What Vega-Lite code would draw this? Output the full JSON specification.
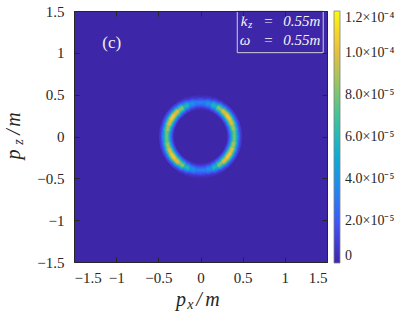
{
"$schema":"https://vega.github.io/schema/vega-lite/v6.json",
"width":253,"height":251,
"autosize":{"type":"none"},
"padding":{"left":74,"top":11,"right":74,"bottom":54},
"background":"white",
"config":{
 "view":{"stroke":null},
 "font":"Liberation Serif",
 "axis":{"labelFont":"Liberation Serif","labelFontSize":15,"labelColor":"#262626","domainColor":"#262626","tickColor":"#262626","tickSize":-5,"grid":false,"title":null,"domainWidth":1,"tickWidth":1,"zindex":2},
 "legend":{"padding":0}
},
"datasets":{"ring":[
{"t":0,"t2":10,"r":0.3225,"r2":0.3375,"v":3.8e-6},{"t":0,"t2":10,"r":0.3375,"r2":0.3525,"v":8.2e-6},{"t":0,"t2":10,"r":0.3525,"r2":0.3675,"v":1.51e-5},{"t":0,"t2":10,"r":0.3675,"r2":0.3825,"v":2.33e-5},{"t":0,"t2":10,"r":0.3825,"r2":0.3975,"v":3.03e-5},{"t":0,"t2":10,"r":0.3975,"r2":0.4125,"v":3.3e-5},{"t":0,"t2":10,"r":0.4125,"r2":0.4275,"v":3.03e-5},{"t":0,"t2":10,"r":0.4275,"r2":0.4425,"v":2.33e-5},{"t":0,"t2":10,"r":0.4425,"r2":0.4575,"v":1.51e-5},{"t":0,"t2":10,"r":0.4575,"r2":0.4725,"v":8.2e-6},{"t":0,"t2":10,"r":0.4725,"r2":0.4875,"v":3.8e-6},
{"t":10,"t2":20,"r":0.3225,"r2":0.3375,"v":4.8e-6},{"t":10,"t2":20,"r":0.3375,"r2":0.3525,"v":1.04e-5},{"t":10,"t2":20,"r":0.3525,"r2":0.3675,"v":1.91e-5},{"t":10,"t2":20,"r":0.3675,"r2":0.3825,"v":2.96e-5},{"t":10,"t2":20,"r":0.3825,"r2":0.3975,"v":3.83e-5},{"t":10,"t2":20,"r":0.3975,"r2":0.4125,"v":4.18e-5},{"t":10,"t2":20,"r":0.4125,"r2":0.4275,"v":3.83e-5},{"t":10,"t2":20,"r":0.4275,"r2":0.4425,"v":2.96e-5},{"t":10,"t2":20,"r":0.4425,"r2":0.4575,"v":1.91e-5},{"t":10,"t2":20,"r":0.4575,"r2":0.4725,"v":1.04e-5},{"t":10,"t2":20,"r":0.4725,"r2":0.4875,"v":4.8e-6},
{"t":20,"t2":30,"r":0.3225,"r2":0.3375,"v":7.0e-6},{"t":20,"t2":30,"r":0.3375,"r2":0.3525,"v":1.53e-5},{"t":20,"t2":30,"r":0.3525,"r2":0.3675,"v":2.82e-5},{"t":20,"t2":30,"r":0.3675,"r2":0.3825,"v":4.36e-5},{"t":20,"t2":30,"r":0.3825,"r2":0.3975,"v":5.65e-5},{"t":20,"t2":30,"r":0.3975,"r2":0.4125,"v":6.16e-5},{"t":20,"t2":30,"r":0.4125,"r2":0.4275,"v":5.65e-5},{"t":20,"t2":30,"r":0.4275,"r2":0.4425,"v":4.36e-5},{"t":20,"t2":30,"r":0.4425,"r2":0.4575,"v":2.82e-5},{"t":20,"t2":30,"r":0.4575,"r2":0.4725,"v":1.53e-5},{"t":20,"t2":30,"r":0.4725,"r2":0.4875,"v":7.0e-6},
{"t":30,"t2":40,"r":0.3225,"r2":0.3375,"v":9.8e-6},{"t":30,"t2":40,"r":0.3375,"r2":0.3525,"v":2.14e-5},{"t":30,"t2":40,"r":0.3525,"r2":0.3675,"v":3.93e-5},{"t":30,"t2":40,"r":0.3675,"r2":0.3825,"v":6.07e-5},{"t":30,"t2":40,"r":0.3825,"r2":0.3975,"v":7.87e-5},{"t":30,"t2":40,"r":0.3975,"r2":0.4125,"v":8.58e-5},{"t":30,"t2":40,"r":0.4125,"r2":0.4275,"v":7.87e-5},{"t":30,"t2":40,"r":0.4275,"r2":0.4425,"v":6.07e-5},{"t":30,"t2":40,"r":0.4425,"r2":0.4575,"v":3.93e-5},{"t":30,"t2":40,"r":0.4575,"r2":0.4725,"v":2.14e-5},{"t":30,"t2":40,"r":0.4725,"r2":0.4875,"v":9.8e-6},
{"t":40,"t2":50,"r":0.3225,"r2":0.3375,"v":1.18e-5},{"t":40,"t2":50,"r":0.3375,"r2":0.3525,"v":2.58e-5},{"t":40,"t2":50,"r":0.3525,"r2":0.3675,"v":4.74e-5},{"t":40,"t2":50,"r":0.3675,"r2":0.3825,"v":7.31e-5},{"t":40,"t2":50,"r":0.3825,"r2":0.3975,"v":9.48e-5},{"t":40,"t2":50,"r":0.3975,"r2":0.4125,"v":1.034e-4},{"t":40,"t2":50,"r":0.4125,"r2":0.4275,"v":9.48e-5},{"t":40,"t2":50,"r":0.4275,"r2":0.4425,"v":7.31e-5},{"t":40,"t2":50,"r":0.4425,"r2":0.4575,"v":4.74e-5},{"t":40,"t2":50,"r":0.4575,"r2":0.4725,"v":2.58e-5},{"t":40,"t2":50,"r":0.4725,"r2":0.4875,"v":1.18e-5},
{"t":50,"t2":60,"r":0.3225,"r2":0.3375,"v":1.25e-5},{"t":50,"t2":60,"r":0.3375,"r2":0.3525,"v":2.74e-5},{"t":50,"t2":60,"r":0.3525,"r2":0.3675,"v":5.04e-5},{"t":50,"t2":60,"r":0.3675,"r2":0.3825,"v":7.78e-5},{"t":50,"t2":60,"r":0.3825,"r2":0.3975,"v":1.009e-4},{"t":50,"t2":60,"r":0.3975,"r2":0.4125,"v":1.1e-4},{"t":50,"t2":60,"r":0.4125,"r2":0.4275,"v":1.009e-4},{"t":50,"t2":60,"r":0.4275,"r2":0.4425,"v":7.78e-5},{"t":50,"t2":60,"r":0.4425,"r2":0.4575,"v":5.04e-5},{"t":50,"t2":60,"r":0.4575,"r2":0.4725,"v":2.74e-5},{"t":50,"t2":60,"r":0.4725,"r2":0.4875,"v":1.25e-5},
{"t":60,"t2":70,"r":0.3225,"r2":0.3375,"v":1.18e-5},{"t":60,"t2":70,"r":0.3375,"r2":0.3525,"v":2.58e-5},{"t":60,"t2":70,"r":0.3525,"r2":0.3675,"v":4.74e-5},{"t":60,"t2":70,"r":0.3675,"r2":0.3825,"v":7.31e-5},{"t":60,"t2":70,"r":0.3825,"r2":0.3975,"v":9.48e-5},{"t":60,"t2":70,"r":0.3975,"r2":0.4125,"v":1.034e-4},{"t":60,"t2":70,"r":0.4125,"r2":0.4275,"v":9.48e-5},{"t":60,"t2":70,"r":0.4275,"r2":0.4425,"v":7.31e-5},{"t":60,"t2":70,"r":0.4425,"r2":0.4575,"v":4.74e-5},{"t":60,"t2":70,"r":0.4575,"r2":0.4725,"v":2.58e-5},{"t":60,"t2":70,"r":0.4725,"r2":0.4875,"v":1.18e-5},
{"t":70,"t2":80,"r":0.3225,"r2":0.3375,"v":1.03e-5},{"t":70,"t2":80,"r":0.3375,"r2":0.3525,"v":2.25e-5},{"t":70,"t2":80,"r":0.3525,"r2":0.3675,"v":4.13e-5},{"t":70,"t2":80,"r":0.3675,"r2":0.3825,"v":6.38e-5},{"t":70,"t2":80,"r":0.3825,"r2":0.3975,"v":8.27e-5},{"t":70,"t2":80,"r":0.3975,"r2":0.4125,"v":9.02e-5},{"t":70,"t2":80,"r":0.4125,"r2":0.4275,"v":8.27e-5},{"t":70,"t2":80,"r":0.4275,"r2":0.4425,"v":6.38e-5},{"t":70,"t2":80,"r":0.4425,"r2":0.4575,"v":4.13e-5},{"t":70,"t2":80,"r":0.4575,"r2":0.4725,"v":2.25e-5},{"t":70,"t2":80,"r":0.4725,"r2":0.4875,"v":1.03e-5},
{"t":80,"t2":90,"r":0.3225,"r2":0.3375,"v":9.0e-6},{"t":80,"t2":90,"r":0.3375,"r2":0.3525,"v":1.97e-5},{"t":80,"t2":90,"r":0.3525,"r2":0.3675,"v":3.63e-5},{"t":80,"t2":90,"r":0.3675,"r2":0.3825,"v":5.6e-5},{"t":80,"t2":90,"r":0.3825,"r2":0.3975,"v":7.26e-5},{"t":80,"t2":90,"r":0.3975,"r2":0.4125,"v":7.92e-5},{"t":80,"t2":90,"r":0.4125,"r2":0.4275,"v":7.26e-5},{"t":80,"t2":90,"r":0.4275,"r2":0.4425,"v":5.6e-5},{"t":80,"t2":90,"r":0.4425,"r2":0.4575,"v":3.63e-5},{"t":80,"t2":90,"r":0.4575,"r2":0.4725,"v":1.97e-5},{"t":80,"t2":90,"r":0.4725,"r2":0.4875,"v":9.0e-6},
{"t":90,"t2":100,"r":0.3225,"r2":0.3375,"v":9.0e-6},{"t":90,"t2":100,"r":0.3375,"r2":0.3525,"v":1.97e-5},{"t":90,"t2":100,"r":0.3525,"r2":0.3675,"v":3.63e-5},{"t":90,"t2":100,"r":0.3675,"r2":0.3825,"v":5.6e-5},{"t":90,"t2":100,"r":0.3825,"r2":0.3975,"v":7.26e-5},{"t":90,"t2":100,"r":0.3975,"r2":0.4125,"v":7.92e-5},{"t":90,"t2":100,"r":0.4125,"r2":0.4275,"v":7.26e-5},{"t":90,"t2":100,"r":0.4275,"r2":0.4425,"v":5.6e-5},{"t":90,"t2":100,"r":0.4425,"r2":0.4575,"v":3.63e-5},{"t":90,"t2":100,"r":0.4575,"r2":0.4725,"v":1.97e-5},{"t":90,"t2":100,"r":0.4725,"r2":0.4875,"v":9.0e-6},
{"t":100,"t2":110,"r":0.3225,"r2":0.3375,"v":1.03e-5},{"t":100,"t2":110,"r":0.3375,"r2":0.3525,"v":2.25e-5},{"t":100,"t2":110,"r":0.3525,"r2":0.3675,"v":4.13e-5},{"t":100,"t2":110,"r":0.3675,"r2":0.3825,"v":6.38e-5},{"t":100,"t2":110,"r":0.3825,"r2":0.3975,"v":8.27e-5},{"t":100,"t2":110,"r":0.3975,"r2":0.4125,"v":9.02e-5},{"t":100,"t2":110,"r":0.4125,"r2":0.4275,"v":8.27e-5},{"t":100,"t2":110,"r":0.4275,"r2":0.4425,"v":6.38e-5},{"t":100,"t2":110,"r":0.4425,"r2":0.4575,"v":4.13e-5},{"t":100,"t2":110,"r":0.4575,"r2":0.4725,"v":2.25e-5},{"t":100,"t2":110,"r":0.4725,"r2":0.4875,"v":1.03e-5},
{"t":110,"t2":120,"r":0.3225,"r2":0.3375,"v":1.18e-5},{"t":110,"t2":120,"r":0.3375,"r2":0.3525,"v":2.58e-5},{"t":110,"t2":120,"r":0.3525,"r2":0.3675,"v":4.74e-5},{"t":110,"t2":120,"r":0.3675,"r2":0.3825,"v":7.31e-5},{"t":110,"t2":120,"r":0.3825,"r2":0.3975,"v":9.48e-5},{"t":110,"t2":120,"r":0.3975,"r2":0.4125,"v":1.034e-4},{"t":110,"t2":120,"r":0.4125,"r2":0.4275,"v":9.48e-5},{"t":110,"t2":120,"r":0.4275,"r2":0.4425,"v":7.31e-5},{"t":110,"t2":120,"r":0.4425,"r2":0.4575,"v":4.74e-5},{"t":110,"t2":120,"r":0.4575,"r2":0.4725,"v":2.58e-5},{"t":110,"t2":120,"r":0.4725,"r2":0.4875,"v":1.18e-5},
{"t":120,"t2":130,"r":0.3225,"r2":0.3375,"v":1.25e-5},{"t":120,"t2":130,"r":0.3375,"r2":0.3525,"v":2.74e-5},{"t":120,"t2":130,"r":0.3525,"r2":0.3675,"v":5.04e-5},{"t":120,"t2":130,"r":0.3675,"r2":0.3825,"v":7.78e-5},{"t":120,"t2":130,"r":0.3825,"r2":0.3975,"v":1.009e-4},{"t":120,"t2":130,"r":0.3975,"r2":0.4125,"v":1.1e-4},{"t":120,"t2":130,"r":0.4125,"r2":0.4275,"v":1.009e-4},{"t":120,"t2":130,"r":0.4275,"r2":0.4425,"v":7.78e-5},{"t":120,"t2":130,"r":0.4425,"r2":0.4575,"v":5.04e-5},{"t":120,"t2":130,"r":0.4575,"r2":0.4725,"v":2.74e-5},{"t":120,"t2":130,"r":0.4725,"r2":0.4875,"v":1.25e-5},
{"t":130,"t2":140,"r":0.3225,"r2":0.3375,"v":1.18e-5},{"t":130,"t2":140,"r":0.3375,"r2":0.3525,"v":2.58e-5},{"t":130,"t2":140,"r":0.3525,"r2":0.3675,"v":4.74e-5},{"t":130,"t2":140,"r":0.3675,"r2":0.3825,"v":7.31e-5},{"t":130,"t2":140,"r":0.3825,"r2":0.3975,"v":9.48e-5},{"t":130,"t2":140,"r":0.3975,"r2":0.4125,"v":1.034e-4},{"t":130,"t2":140,"r":0.4125,"r2":0.4275,"v":9.48e-5},{"t":130,"t2":140,"r":0.4275,"r2":0.4425,"v":7.31e-5},{"t":130,"t2":140,"r":0.4425,"r2":0.4575,"v":4.74e-5},{"t":130,"t2":140,"r":0.4575,"r2":0.4725,"v":2.58e-5},{"t":130,"t2":140,"r":0.4725,"r2":0.4875,"v":1.18e-5},
{"t":140,"t2":150,"r":0.3225,"r2":0.3375,"v":9.8e-6},{"t":140,"t2":150,"r":0.3375,"r2":0.3525,"v":2.14e-5},{"t":140,"t2":150,"r":0.3525,"r2":0.3675,"v":3.93e-5},{"t":140,"t2":150,"r":0.3675,"r2":0.3825,"v":6.07e-5},{"t":140,"t2":150,"r":0.3825,"r2":0.3975,"v":7.87e-5},{"t":140,"t2":150,"r":0.3975,"r2":0.4125,"v":8.58e-5},{"t":140,"t2":150,"r":0.4125,"r2":0.4275,"v":7.87e-5},{"t":140,"t2":150,"r":0.4275,"r2":0.4425,"v":6.07e-5},{"t":140,"t2":150,"r":0.4425,"r2":0.4575,"v":3.93e-5},{"t":140,"t2":150,"r":0.4575,"r2":0.4725,"v":2.14e-5},{"t":140,"t2":150,"r":0.4725,"r2":0.4875,"v":9.8e-6},
{"t":150,"t2":160,"r":0.3225,"r2":0.3375,"v":7.0e-6},{"t":150,"t2":160,"r":0.3375,"r2":0.3525,"v":1.53e-5},{"t":150,"t2":160,"r":0.3525,"r2":0.3675,"v":2.82e-5},{"t":150,"t2":160,"r":0.3675,"r2":0.3825,"v":4.36e-5},{"t":150,"t2":160,"r":0.3825,"r2":0.3975,"v":5.65e-5},{"t":150,"t2":160,"r":0.3975,"r2":0.4125,"v":6.16e-5},{"t":150,"t2":160,"r":0.4125,"r2":0.4275,"v":5.65e-5},{"t":150,"t2":160,"r":0.4275,"r2":0.4425,"v":4.36e-5},{"t":150,"t2":160,"r":0.4425,"r2":0.4575,"v":2.82e-5},{"t":150,"t2":160,"r":0.4575,"r2":0.4725,"v":1.53e-5},{"t":150,"t2":160,"r":0.4725,"r2":0.4875,"v":7.0e-6},
{"t":160,"t2":170,"r":0.3225,"r2":0.3375,"v":4.8e-6},{"t":160,"t2":170,"r":0.3375,"r2":0.3525,"v":1.04e-5},{"t":160,"t2":170,"r":0.3525,"r2":0.3675,"v":1.91e-5},{"t":160,"t2":170,"r":0.3675,"r2":0.3825,"v":2.96e-5},{"t":160,"t2":170,"r":0.3825,"r2":0.3975,"v":3.83e-5},{"t":160,"t2":170,"r":0.3975,"r2":0.4125,"v":4.18e-5},{"t":160,"t2":170,"r":0.4125,"r2":0.4275,"v":3.83e-5},{"t":160,"t2":170,"r":0.4275,"r2":0.4425,"v":2.96e-5},{"t":160,"t2":170,"r":0.4425,"r2":0.4575,"v":1.91e-5},{"t":160,"t2":170,"r":0.4575,"r2":0.4725,"v":1.04e-5},{"t":160,"t2":170,"r":0.4725,"r2":0.4875,"v":4.8e-6},
{"t":170,"t2":180,"r":0.3225,"r2":0.3375,"v":3.8e-6},{"t":170,"t2":180,"r":0.3375,"r2":0.3525,"v":8.2e-6},{"t":170,"t2":180,"r":0.3525,"r2":0.3675,"v":1.51e-5},{"t":170,"t2":180,"r":0.3675,"r2":0.3825,"v":2.33e-5},{"t":170,"t2":180,"r":0.3825,"r2":0.3975,"v":3.03e-5},{"t":170,"t2":180,"r":0.3975,"r2":0.4125,"v":3.3e-5},{"t":170,"t2":180,"r":0.4125,"r2":0.4275,"v":3.03e-5},{"t":170,"t2":180,"r":0.4275,"r2":0.4425,"v":2.33e-5},{"t":170,"t2":180,"r":0.4425,"r2":0.4575,"v":1.51e-5},{"t":170,"t2":180,"r":0.4575,"r2":0.4725,"v":8.2e-6},{"t":170,"t2":180,"r":0.4725,"r2":0.4875,"v":3.8e-6},
{"t":180,"t2":190,"r":0.3225,"r2":0.3375,"v":3.8e-6},{"t":180,"t2":190,"r":0.3375,"r2":0.3525,"v":8.2e-6},{"t":180,"t2":190,"r":0.3525,"r2":0.3675,"v":1.51e-5},{"t":180,"t2":190,"r":0.3675,"r2":0.3825,"v":2.33e-5},{"t":180,"t2":190,"r":0.3825,"r2":0.3975,"v":3.03e-5},{"t":180,"t2":190,"r":0.3975,"r2":0.4125,"v":3.3e-5},{"t":180,"t2":190,"r":0.4125,"r2":0.4275,"v":3.03e-5},{"t":180,"t2":190,"r":0.4275,"r2":0.4425,"v":2.33e-5},{"t":180,"t2":190,"r":0.4425,"r2":0.4575,"v":1.51e-5},{"t":180,"t2":190,"r":0.4575,"r2":0.4725,"v":8.2e-6},{"t":180,"t2":190,"r":0.4725,"r2":0.4875,"v":3.8e-6},
{"t":190,"t2":200,"r":0.3225,"r2":0.3375,"v":4.8e-6},{"t":190,"t2":200,"r":0.3375,"r2":0.3525,"v":1.04e-5},{"t":190,"t2":200,"r":0.3525,"r2":0.3675,"v":1.91e-5},{"t":190,"t2":200,"r":0.3675,"r2":0.3825,"v":2.96e-5},{"t":190,"t2":200,"r":0.3825,"r2":0.3975,"v":3.83e-5},{"t":190,"t2":200,"r":0.3975,"r2":0.4125,"v":4.18e-5},{"t":190,"t2":200,"r":0.4125,"r2":0.4275,"v":3.83e-5},{"t":190,"t2":200,"r":0.4275,"r2":0.4425,"v":2.96e-5},{"t":190,"t2":200,"r":0.4425,"r2":0.4575,"v":1.91e-5},{"t":190,"t2":200,"r":0.4575,"r2":0.4725,"v":1.04e-5},{"t":190,"t2":200,"r":0.4725,"r2":0.4875,"v":4.8e-6},
{"t":200,"t2":210,"r":0.3225,"r2":0.3375,"v":7.0e-6},{"t":200,"t2":210,"r":0.3375,"r2":0.3525,"v":1.53e-5},{"t":200,"t2":210,"r":0.3525,"r2":0.3675,"v":2.82e-5},{"t":200,"t2":210,"r":0.3675,"r2":0.3825,"v":4.36e-5},{"t":200,"t2":210,"r":0.3825,"r2":0.3975,"v":5.65e-5},{"t":200,"t2":210,"r":0.3975,"r2":0.4125,"v":6.16e-5},{"t":200,"t2":210,"r":0.4125,"r2":0.4275,"v":5.65e-5},{"t":200,"t2":210,"r":0.4275,"r2":0.4425,"v":4.36e-5},{"t":200,"t2":210,"r":0.4425,"r2":0.4575,"v":2.82e-5},{"t":200,"t2":210,"r":0.4575,"r2":0.4725,"v":1.53e-5},{"t":200,"t2":210,"r":0.4725,"r2":0.4875,"v":7.0e-6},
{"t":210,"t2":220,"r":0.3225,"r2":0.3375,"v":9.8e-6},{"t":210,"t2":220,"r":0.3375,"r2":0.3525,"v":2.14e-5},{"t":210,"t2":220,"r":0.3525,"r2":0.3675,"v":3.93e-5},{"t":210,"t2":220,"r":0.3675,"r2":0.3825,"v":6.07e-5},{"t":210,"t2":220,"r":0.3825,"r2":0.3975,"v":7.87e-5},{"t":210,"t2":220,"r":0.3975,"r2":0.4125,"v":8.58e-5},{"t":210,"t2":220,"r":0.4125,"r2":0.4275,"v":7.87e-5},{"t":210,"t2":220,"r":0.4275,"r2":0.4425,"v":6.07e-5},{"t":210,"t2":220,"r":0.4425,"r2":0.4575,"v":3.93e-5},{"t":210,"t2":220,"r":0.4575,"r2":0.4725,"v":2.14e-5},{"t":210,"t2":220,"r":0.4725,"r2":0.4875,"v":9.8e-6},
{"t":220,"t2":230,"r":0.3225,"r2":0.3375,"v":1.18e-5},{"t":220,"t2":230,"r":0.3375,"r2":0.3525,"v":2.58e-5},{"t":220,"t2":230,"r":0.3525,"r2":0.3675,"v":4.74e-5},{"t":220,"t2":230,"r":0.3675,"r2":0.3825,"v":7.31e-5},{"t":220,"t2":230,"r":0.3825,"r2":0.3975,"v":9.48e-5},{"t":220,"t2":230,"r":0.3975,"r2":0.4125,"v":1.034e-4},{"t":220,"t2":230,"r":0.4125,"r2":0.4275,"v":9.48e-5},{"t":220,"t2":230,"r":0.4275,"r2":0.4425,"v":7.31e-5},{"t":220,"t2":230,"r":0.4425,"r2":0.4575,"v":4.74e-5},{"t":220,"t2":230,"r":0.4575,"r2":0.4725,"v":2.58e-5},{"t":220,"t2":230,"r":0.4725,"r2":0.4875,"v":1.18e-5},
{"t":230,"t2":240,"r":0.3225,"r2":0.3375,"v":1.25e-5},{"t":230,"t2":240,"r":0.3375,"r2":0.3525,"v":2.74e-5},{"t":230,"t2":240,"r":0.3525,"r2":0.3675,"v":5.04e-5},{"t":230,"t2":240,"r":0.3675,"r2":0.3825,"v":7.78e-5},{"t":230,"t2":240,"r":0.3825,"r2":0.3975,"v":1.009e-4},{"t":230,"t2":240,"r":0.3975,"r2":0.4125,"v":1.1e-4},{"t":230,"t2":240,"r":0.4125,"r2":0.4275,"v":1.009e-4},{"t":230,"t2":240,"r":0.4275,"r2":0.4425,"v":7.78e-5},{"t":230,"t2":240,"r":0.4425,"r2":0.4575,"v":5.04e-5},{"t":230,"t2":240,"r":0.4575,"r2":0.4725,"v":2.74e-5},{"t":230,"t2":240,"r":0.4725,"r2":0.4875,"v":1.25e-5},
{"t":240,"t2":250,"r":0.3225,"r2":0.3375,"v":1.18e-5},{"t":240,"t2":250,"r":0.3375,"r2":0.3525,"v":2.58e-5},{"t":240,"t2":250,"r":0.3525,"r2":0.3675,"v":4.74e-5},{"t":240,"t2":250,"r":0.3675,"r2":0.3825,"v":7.31e-5},{"t":240,"t2":250,"r":0.3825,"r2":0.3975,"v":9.48e-5},{"t":240,"t2":250,"r":0.3975,"r2":0.4125,"v":1.034e-4},{"t":240,"t2":250,"r":0.4125,"r2":0.4275,"v":9.48e-5},{"t":240,"t2":250,"r":0.4275,"r2":0.4425,"v":7.31e-5},{"t":240,"t2":250,"r":0.4425,"r2":0.4575,"v":4.74e-5},{"t":240,"t2":250,"r":0.4575,"r2":0.4725,"v":2.58e-5},{"t":240,"t2":250,"r":0.4725,"r2":0.4875,"v":1.18e-5},
{"t":250,"t2":260,"r":0.3225,"r2":0.3375,"v":1.03e-5},{"t":250,"t2":260,"r":0.3375,"r2":0.3525,"v":2.25e-5},{"t":250,"t2":260,"r":0.3525,"r2":0.3675,"v":4.13e-5},{"t":250,"t2":260,"r":0.3675,"r2":0.3825,"v":6.38e-5},{"t":250,"t2":260,"r":0.3825,"r2":0.3975,"v":8.27e-5},{"t":250,"t2":260,"r":0.3975,"r2":0.4125,"v":9.02e-5},{"t":250,"t2":260,"r":0.4125,"r2":0.4275,"v":8.27e-5},{"t":250,"t2":260,"r":0.4275,"r2":0.4425,"v":6.38e-5},{"t":250,"t2":260,"r":0.4425,"r2":0.4575,"v":4.13e-5},{"t":250,"t2":260,"r":0.4575,"r2":0.4725,"v":2.25e-5},{"t":250,"t2":260,"r":0.4725,"r2":0.4875,"v":1.03e-5},
{"t":260,"t2":270,"r":0.3225,"r2":0.3375,"v":9.0e-6},{"t":260,"t2":270,"r":0.3375,"r2":0.3525,"v":1.97e-5},{"t":260,"t2":270,"r":0.3525,"r2":0.3675,"v":3.63e-5},{"t":260,"t2":270,"r":0.3675,"r2":0.3825,"v":5.6e-5},{"t":260,"t2":270,"r":0.3825,"r2":0.3975,"v":7.26e-5},{"t":260,"t2":270,"r":0.3975,"r2":0.4125,"v":7.92e-5},{"t":260,"t2":270,"r":0.4125,"r2":0.4275,"v":7.26e-5},{"t":260,"t2":270,"r":0.4275,"r2":0.4425,"v":5.6e-5},{"t":260,"t2":270,"r":0.4425,"r2":0.4575,"v":3.63e-5},{"t":260,"t2":270,"r":0.4575,"r2":0.4725,"v":1.97e-5},{"t":260,"t2":270,"r":0.4725,"r2":0.4875,"v":9.0e-6},
{"t":270,"t2":280,"r":0.3225,"r2":0.3375,"v":9.0e-6},{"t":270,"t2":280,"r":0.3375,"r2":0.3525,"v":1.97e-5},{"t":270,"t2":280,"r":0.3525,"r2":0.3675,"v":3.63e-5},{"t":270,"t2":280,"r":0.3675,"r2":0.3825,"v":5.6e-5},{"t":270,"t2":280,"r":0.3825,"r2":0.3975,"v":7.26e-5},{"t":270,"t2":280,"r":0.3975,"r2":0.4125,"v":7.92e-5},{"t":270,"t2":280,"r":0.4125,"r2":0.4275,"v":7.26e-5},{"t":270,"t2":280,"r":0.4275,"r2":0.4425,"v":5.6e-5},{"t":270,"t2":280,"r":0.4425,"r2":0.4575,"v":3.63e-5},{"t":270,"t2":280,"r":0.4575,"r2":0.4725,"v":1.97e-5},{"t":270,"t2":280,"r":0.4725,"r2":0.4875,"v":9.0e-6},
{"t":280,"t2":290,"r":0.3225,"r2":0.3375,"v":1.03e-5},{"t":280,"t2":290,"r":0.3375,"r2":0.3525,"v":2.25e-5},{"t":280,"t2":290,"r":0.3525,"r2":0.3675,"v":4.13e-5},{"t":280,"t2":290,"r":0.3675,"r2":0.3825,"v":6.38e-5},{"t":280,"t2":290,"r":0.3825,"r2":0.3975,"v":8.27e-5},{"t":280,"t2":290,"r":0.3975,"r2":0.4125,"v":9.02e-5},{"t":280,"t2":290,"r":0.4125,"r2":0.4275,"v":8.27e-5},{"t":280,"t2":290,"r":0.4275,"r2":0.4425,"v":6.38e-5},{"t":280,"t2":290,"r":0.4425,"r2":0.4575,"v":4.13e-5},{"t":280,"t2":290,"r":0.4575,"r2":0.4725,"v":2.25e-5},{"t":280,"t2":290,"r":0.4725,"r2":0.4875,"v":1.03e-5},
{"t":290,"t2":300,"r":0.3225,"r2":0.3375,"v":1.18e-5},{"t":290,"t2":300,"r":0.3375,"r2":0.3525,"v":2.58e-5},{"t":290,"t2":300,"r":0.3525,"r2":0.3675,"v":4.74e-5},{"t":290,"t2":300,"r":0.3675,"r2":0.3825,"v":7.31e-5},{"t":290,"t2":300,"r":0.3825,"r2":0.3975,"v":9.48e-5},{"t":290,"t2":300,"r":0.3975,"r2":0.4125,"v":1.034e-4},{"t":290,"t2":300,"r":0.4125,"r2":0.4275,"v":9.48e-5},{"t":290,"t2":300,"r":0.4275,"r2":0.4425,"v":7.31e-5},{"t":290,"t2":300,"r":0.4425,"r2":0.4575,"v":4.74e-5},{"t":290,"t2":300,"r":0.4575,"r2":0.4725,"v":2.58e-5},{"t":290,"t2":300,"r":0.4725,"r2":0.4875,"v":1.18e-5},
{"t":300,"t2":310,"r":0.3225,"r2":0.3375,"v":1.25e-5},{"t":300,"t2":310,"r":0.3375,"r2":0.3525,"v":2.74e-5},{"t":300,"t2":310,"r":0.3525,"r2":0.3675,"v":5.04e-5},{"t":300,"t2":310,"r":0.3675,"r2":0.3825,"v":7.78e-5},{"t":300,"t2":310,"r":0.3825,"r2":0.3975,"v":1.009e-4},{"t":300,"t2":310,"r":0.3975,"r2":0.4125,"v":1.1e-4},{"t":300,"t2":310,"r":0.4125,"r2":0.4275,"v":1.009e-4},{"t":300,"t2":310,"r":0.4275,"r2":0.4425,"v":7.78e-5},{"t":300,"t2":310,"r":0.4425,"r2":0.4575,"v":5.04e-5},{"t":300,"t2":310,"r":0.4575,"r2":0.4725,"v":2.74e-5},{"t":300,"t2":310,"r":0.4725,"r2":0.4875,"v":1.25e-5},
{"t":310,"t2":320,"r":0.3225,"r2":0.3375,"v":1.18e-5},{"t":310,"t2":320,"r":0.3375,"r2":0.3525,"v":2.58e-5},{"t":310,"t2":320,"r":0.3525,"r2":0.3675,"v":4.74e-5},{"t":310,"t2":320,"r":0.3675,"r2":0.3825,"v":7.31e-5},{"t":310,"t2":320,"r":0.3825,"r2":0.3975,"v":9.48e-5},{"t":310,"t2":320,"r":0.3975,"r2":0.4125,"v":1.034e-4},{"t":310,"t2":320,"r":0.4125,"r2":0.4275,"v":9.48e-5},{"t":310,"t2":320,"r":0.4275,"r2":0.4425,"v":7.31e-5},{"t":310,"t2":320,"r":0.4425,"r2":0.4575,"v":4.74e-5},{"t":310,"t2":320,"r":0.4575,"r2":0.4725,"v":2.58e-5},{"t":310,"t2":320,"r":0.4725,"r2":0.4875,"v":1.18e-5},
{"t":320,"t2":330,"r":0.3225,"r2":0.3375,"v":9.8e-6},{"t":320,"t2":330,"r":0.3375,"r2":0.3525,"v":2.14e-5},{"t":320,"t2":330,"r":0.3525,"r2":0.3675,"v":3.93e-5},{"t":320,"t2":330,"r":0.3675,"r2":0.3825,"v":6.07e-5},{"t":320,"t2":330,"r":0.3825,"r2":0.3975,"v":7.87e-5},{"t":320,"t2":330,"r":0.3975,"r2":0.4125,"v":8.58e-5},{"t":320,"t2":330,"r":0.4125,"r2":0.4275,"v":7.87e-5},{"t":320,"t2":330,"r":0.4275,"r2":0.4425,"v":6.07e-5},{"t":320,"t2":330,"r":0.4425,"r2":0.4575,"v":3.93e-5},{"t":320,"t2":330,"r":0.4575,"r2":0.4725,"v":2.14e-5},{"t":320,"t2":330,"r":0.4725,"r2":0.4875,"v":9.8e-6},
{"t":330,"t2":340,"r":0.3225,"r2":0.3375,"v":7.0e-6},{"t":330,"t2":340,"r":0.3375,"r2":0.3525,"v":1.53e-5},{"t":330,"t2":340,"r":0.3525,"r2":0.3675,"v":2.82e-5},{"t":330,"t2":340,"r":0.3675,"r2":0.3825,"v":4.36e-5},{"t":330,"t2":340,"r":0.3825,"r2":0.3975,"v":5.65e-5},{"t":330,"t2":340,"r":0.3975,"r2":0.4125,"v":6.16e-5},{"t":330,"t2":340,"r":0.4125,"r2":0.4275,"v":5.65e-5},{"t":330,"t2":340,"r":0.4275,"r2":0.4425,"v":4.36e-5},{"t":330,"t2":340,"r":0.4425,"r2":0.4575,"v":2.82e-5},{"t":330,"t2":340,"r":0.4575,"r2":0.4725,"v":1.53e-5},{"t":330,"t2":340,"r":0.4725,"r2":0.4875,"v":7.0e-6},
{"t":340,"t2":350,"r":0.3225,"r2":0.3375,"v":4.8e-6},{"t":340,"t2":350,"r":0.3375,"r2":0.3525,"v":1.04e-5},{"t":340,"t2":350,"r":0.3525,"r2":0.3675,"v":1.91e-5},{"t":340,"t2":350,"r":0.3675,"r2":0.3825,"v":2.96e-5},{"t":340,"t2":350,"r":0.3825,"r2":0.3975,"v":3.83e-5},{"t":340,"t2":350,"r":0.3975,"r2":0.4125,"v":4.18e-5},{"t":340,"t2":350,"r":0.4125,"r2":0.4275,"v":3.83e-5},{"t":340,"t2":350,"r":0.4275,"r2":0.4425,"v":2.96e-5},{"t":340,"t2":350,"r":0.4425,"r2":0.4575,"v":1.91e-5},{"t":340,"t2":350,"r":0.4575,"r2":0.4725,"v":1.04e-5},{"t":340,"t2":350,"r":0.4725,"r2":0.4875,"v":4.8e-6},
{"t":350,"t2":360,"r":0.3225,"r2":0.3375,"v":3.8e-6},{"t":350,"t2":360,"r":0.3375,"r2":0.3525,"v":8.2e-6},{"t":350,"t2":360,"r":0.3525,"r2":0.3675,"v":1.51e-5},{"t":350,"t2":360,"r":0.3675,"r2":0.3825,"v":2.33e-5},{"t":350,"t2":360,"r":0.3825,"r2":0.3975,"v":3.03e-5},{"t":350,"t2":360,"r":0.3975,"r2":0.4125,"v":3.3e-5},{"t":350,"t2":360,"r":0.4125,"r2":0.4275,"v":3.03e-5},{"t":350,"t2":360,"r":0.4275,"r2":0.4425,"v":2.33e-5},{"t":350,"t2":360,"r":0.4425,"r2":0.4575,"v":1.51e-5},{"t":350,"t2":360,"r":0.4575,"r2":0.4725,"v":8.2e-6},{"t":350,"t2":360,"r":0.4725,"r2":0.4875,"v":3.8e-6}
]},
"layer":[
 {"data":{"values":[{"x":-1.5,"x2":1.5,"y":-1.5,"y2":1.5,"v":0}]},
  "mark":{"type":"rect"},
  "encoding":{
   "x":{"field":"x","type":"quantitative","scale":{"domain":[-1.5,1.5],"nice":false,"zero":false},"axis":{"orient":"bottom","values":[-1.5,-1,-0.5,0,0.5,1,1.5],"format":"~g","labelPadding":13,"labelFont":"Liberation Serif","labelFontSize":15,"tickSize":-5,"zindex":2}},
   "x2":{"field":"x2"},
   "y":{"field":"y","type":"quantitative","scale":{"domain":[-1.5,1.5],"nice":false,"zero":false},"axis":{"orient":"left","values":[-1.5,-1,-0.5,0,0.5,1,1.5],"format":"~g","labelPadding":15,"labelFont":"Liberation Serif","labelFontSize":15,"tickSize":-5,"zindex":2}},
   "y2":{"field":"y2"},
   "color":{"field":"v","type":"quantitative","scale":{"domain":[0,1.2e-4],"range":["#3e26a8","#454ef9","#2187f3","#0dadd3","#39c49e","#99c65f","#f3be3b","#f9fa0e"],"interpolate":"rgb"},
    "legend":{"title":null,"orient":"right","direction":"vertical","type":"gradient","gradientLength":252,"gradientThickness":6,"offset":6,"labelFont":"Liberation Serif","labelFontSize":14,"labelColor":"#262626","labelOffset":5,"gradientStrokeColor":"#808080","gradientStrokeWidth":0.8,"values":[0,2e-5,4e-5,6e-5,8e-5,1e-4,1.2e-4],"labelOverlap":false,
     "labelExpr":"datum.value == 0 ? '0' : (datum.value >= 9.9e-5 ? format(datum.value*1e4,'.1f') + '×10⁻⁴' : format(datum.value*1e5,'.1f') + '×10⁻⁵')"}}
  }},
 {"data":{"name":"ring"},
  "mark":{"type":"arc","strokeWidth":0.6,"stroke":{"expr":"scale('color', datum.v)"}},
  "encoding":{
   "theta":{"field":"t","type":"quantitative","stack":null,"scale":{"domain":[0,360],"range":[0,6.283185307179586]}},
   "theta2":{"field":"t2"},
   "radius":{"field":"r","type":"quantitative","scale":{"type":"linear","domain":[0,1.5],"range":[0,126.5],"zero":true}},
   "radius2":{"field":"r2"},
   "color":{"field":"v","type":"quantitative"}
  }},
 {"data":{"values":[{"x":0.436,"x2":1.455,"y":1.002,"y2":1.5}]},
  "mark":{"type":"rect","filled":false,"stroke":"#d0d0d0","strokeWidth":1},
  "encoding":{
   "x":{"field":"x","type":"quantitative","scale":{"domain":[-1.5,1.5],"nice":false,"zero":false},"axis":{"orient":"top","labels":false,"values":[-1.5,-1,-0.5,0,0.5,1,1.5],"tickSize":-5,"zindex":2}},
   "x2":{"field":"x2"},
   "y":{"field":"y","type":"quantitative","scale":{"domain":[-1.5,1.5],"nice":false,"zero":false},"axis":{"orient":"right","labels":false,"values":[-1.5,-1,-0.5,0,0.5,1,1.5],"tickSize":-5,"zindex":2}},
   "y2":{"field":"y2"}
  }},
 {"data":{"values":[{"x":-1.053,"y":1.118,"label":"(c)"}]},
  "mark":{"type":"text","font":"Liberation Serif","fontSize":17,"color":"#f0f0f0","align":"center","baseline":"middle"},
  "encoding":{"x":{"field":"x","type":"quantitative","axis":null,"scale":{"domain":[-1.5,1.5]}},"y":{"field":"y","type":"quantitative","axis":null,"scale":{"domain":[-1.5,1.5]}},"text":{"field":"label"}}},
 {"data":{"values":[{"x":0.516,"y":1.321,"label":"k"},{"x":0.804,"y":1.321,"label":"="},{"x":1.2,"y":1.321,"label":"0.55m"},{"x":0.528,"y":1.094,"label":"ω"},{"x":0.804,"y":1.094,"label":"="},{"x":1.2,"y":1.094,"label":"0.55m"}]},
  "mark":{"type":"text","font":"Liberation Serif","fontSize":15,"fontStyle":"italic","color":"#f4f4f4","align":"center","baseline":"alphabetic"},
  "encoding":{"x":{"field":"x","type":"quantitative","axis":null,"scale":{"domain":[-1.5,1.5]}},"y":{"field":"y","type":"quantitative","axis":null,"scale":{"domain":[-1.5,1.5]}},"text":{"field":"label"}}},
 {"data":{"values":[{"x":0.59,"y":1.291,"label":"z"}]},
  "mark":{"type":"text","font":"Liberation Serif","fontSize":11,"fontStyle":"italic","color":"#f4f4f4","align":"center","baseline":"alphabetic"},
  "encoding":{"x":{"field":"x","type":"quantitative","axis":null,"scale":{"domain":[-1.5,1.5]}},"y":{"field":"y","type":"quantitative","axis":null,"scale":{"domain":[-1.5,1.5]}},"text":{"field":"label"}}},
 {"data":{"values":[{"x":-0.231,"y":-2.022,"label":"p"},{"x":-0.018,"y":-2.022,"label":"/"},{"x":0.142,"y":-2.022,"label":"m"}]},
  "mark":{"type":"text","font":"Liberation Serif","fontSize":20,"fontStyle":"italic","color":"#262626","align":"center","baseline":"alphabetic"},
  "encoding":{"x":{"field":"x","type":"quantitative","axis":null,"scale":{"domain":[-1.5,1.5]}},"y":{"field":"y","type":"quantitative","axis":null,"scale":{"domain":[-1.5,1.5]}},"text":{"field":"label"}}},
 {"data":{"values":[{"x":-0.119,"y":-2.062,"label":"x"}]},
  "mark":{"type":"text","font":"Liberation Serif","fontSize":14,"fontStyle":"italic","color":"#262626","align":"center","baseline":"alphabetic"},
  "encoding":{"x":{"field":"x","type":"quantitative","axis":null,"scale":{"domain":[-1.5,1.5]}},"y":{"field":"y","type":"quantitative","axis":null,"scale":{"domain":[-1.5,1.5]}},"text":{"field":"label"}}},
 {"data":{"values":[{"x":-2.14,"y":-0.215,"label":"p"},{"x":-2.14,"y":0.054,"label":"/"},{"x":-2.14,"y":0.203,"label":"m"}]},
  "mark":{"type":"text","font":"Liberation Serif","fontSize":20,"fontStyle":"italic","color":"#262626","align":"center","baseline":"alphabetic","angle":270},
  "encoding":{"x":{"field":"x","type":"quantitative","axis":null,"scale":{"domain":[-1.5,1.5]}},"y":{"field":"y","type":"quantitative","axis":null,"scale":{"domain":[-1.5,1.5]}},"text":{"field":"label"}}},
 {"data":{"values":[{"x":-2.099,"y":-0.066,"label":"z"}]},
  "mark":{"type":"text","font":"Liberation Serif","fontSize":14,"fontStyle":"italic","color":"#262626","align":"center","baseline":"alphabetic","angle":270},
  "encoding":{"x":{"field":"x","type":"quantitative","axis":null,"scale":{"domain":[-1.5,1.5]}},"y":{"field":"y","type":"quantitative","axis":null,"scale":{"domain":[-1.5,1.5]}},"text":{"field":"label"}}}
],
"resolve":{"axis":{"x":"independent","y":"independent"}}
}
